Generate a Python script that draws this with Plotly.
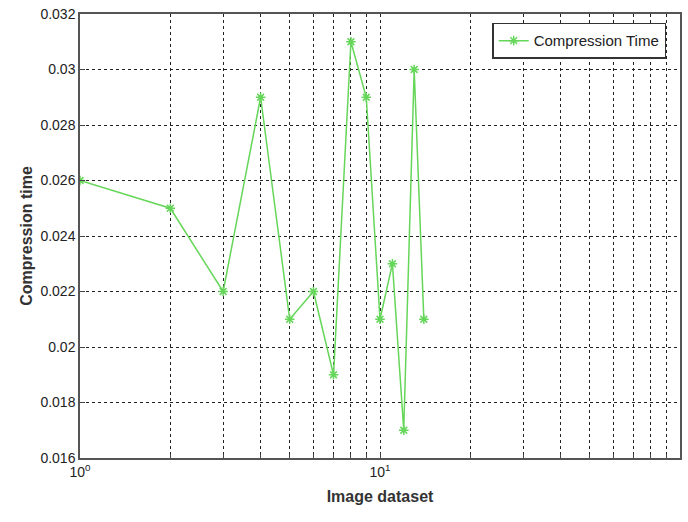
import plotly.graph_objects as go

images = [1, 2, 3, 4, 5, 6, 7, 8, 9, 10, 11, 12, 13, 14]
comp_time = [0.026, 0.025, 0.022, 0.029, 0.021, 0.022, 0.019, 0.031, 0.029, 0.021, 0.023, 0.017, 0.030, 0.021]
y_ticks = [0.016, 0.018, 0.02, 0.022, 0.024, 0.026, 0.028, 0.03, 0.032]
y_labels = ["0.016", "0.018", "0.02", "0.022", "0.024", "0.026", "0.028", "0.03", "0.032"]
x_ticks = [1, 10, 100]
x_labels = ["10<sup>0</sup>", "10<sup>1</sup>", "10<sup>2</sup>"]
x_minor = [2, 3, 4, 5, 6, 7, 8, 9, 20, 30, 40, 50, 60, 70, 80, 90]

green = "#66d65a"
fig = go.Figure()
fig.add_trace(go.Scatter(
    x=images, y=comp_time, mode="lines+markers", name="Compression Time",
    line=dict(color=green, width=1.5),
    marker=dict(symbol="asterisk-open", size=8, color=green, line=dict(color=green, width=1.5)),
))

axis_font = dict(family="Liberation Sans, Arial", size=14, color="#222222")
grid = dict(gridcolor="#222222", griddash="dot", gridwidth=1)
fig.update_layout(
    width=688, height=522,
    margin=dict(l=80, r=6, t=13, b=64),
    paper_bgcolor="white", plot_bgcolor="white",
    font=dict(family="Liberation Sans, Arial", color="#222222"),
    showlegend=True,
    legend=dict(x=0.977, y=0.98, xanchor="right", yanchor="top",
                bordercolor="#333333", borderwidth=1.5, bgcolor="white",
                font=dict(size=15, color="#222222")),
    xaxis=dict(
        type="log", range=[0, 2],
        tickvals=x_ticks, ticktext=x_labels,
        ticks="inside", ticklen=5, tickcolor="#444444",
        showline=True, linecolor="#555555", linewidth=1.5, mirror=True,
        showgrid=True, **grid,
        minor=dict(tickvals=x_minor, showgrid=True, ticks="inside", ticklen=4,
                   tickcolor="#444444", **grid),
        zeroline=False,
        tickfont=axis_font,
        title=dict(text="<b>Image dataset</b>", font=dict(size=16, color="#333333"), standoff=12),
    ),
    yaxis=dict(
        range=[0.016, 0.032],
        tickvals=y_ticks, ticktext=y_labels,
        ticks="inside", ticklen=5, tickcolor="#444444",
        showline=True, linecolor="#555555", linewidth=1.5, mirror=True,
        showgrid=True, **grid,
        zeroline=False,
        tickfont=axis_font,
        title=dict(text="<b>Compression time</b>", font=dict(size=16, color="#333333"), standoff=4),
    ),
)
fig.write_html("out.html")
